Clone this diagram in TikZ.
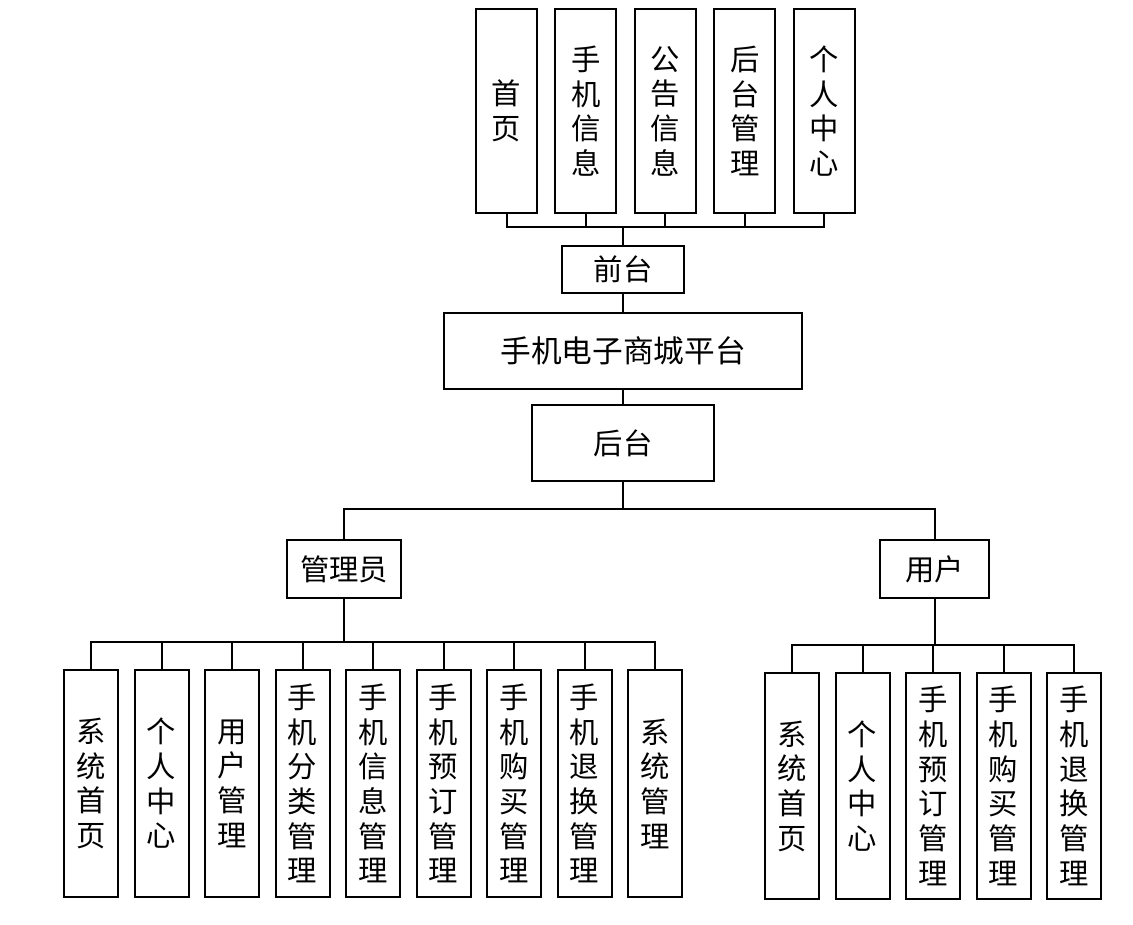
\documentclass[tikz,border=0pt]{standalone}
\usepackage{fontspec}
\setmainfont{Noto Sans CJK SC}
\usetikzlibrary{positioning}

\tikzset{
	box/.style={draw, line width=1.5pt, align=center, inner sep=0pt,
		font=\fontsize{22}{26}\selectfont},
	tallbox/.style={box, minimum width=45.75pt, minimum height=153pt},
	subbox/.style={box, minimum width=40.5pt, minimum height=170pt},
	link/.style={line width=1.5pt},
}

\begin{document}
\begin{tikzpicture}[x=0.75pt,y=-0.75pt]
	\useasboundingbox (0,0) rectangle (1133,925);
	% front end
	\foreach \t [count=\i] in {{首\\页}, {手\\机\\信\\息}, {公\\告\\信\\息}, {后\\台\\管\\理}, {个\\人\\中\\心}}
		\node[tallbox] (t\i) at ({506.5+79.4*(\i-1)},111) {\t};
	\node[box, minimum width=91.5pt, minimum height=35.25pt] (front) at (623,269.5) {前台};
	\node[box, minimum width=268.5pt, minimum height=57pt, font=\fontsize{23}{27}\selectfont] (mall) at (623,351) {手机电子商城平台};
	\node[box, minimum width=136.5pt, minimum height=57pt] (back) at (623,443) {后台};
	\node[box, minimum width=85.5pt, minimum height=43.5pt] (admin) at (344,569) {管理员};
	\node[box, minimum width=81.75pt, minimum height=43.5pt] (user) at (934.5,569) {用户};
	% admin functions
	\foreach \t [count=\i] in {{系\\统\\首\\页}, {个\\人\\中\\心}, {用\\户\\管\\理}, {手\\机\\分\\类\\管\\理},
		{手\\机\\信\\息\\管\\理}, {手\\机\\预\\订\\管\\理}, {手\\机\\购\\买\\管\\理}, {手\\机\\退\\换\\管\\理}, {系\\统\\管\\理}}
		\node[subbox] (a\i) at ({91+70.5*(\i-1)},783.5) {\t};
	% user functions
	\foreach \t [count=\i] in {{系\\统\\首\\页}, {个\\人\\中\\心}, {手\\机\\预\\订\\管\\理}, {手\\机\\购\\买\\管\\理}, {手\\机\\退\\换\\管\\理}}
		\node[subbox] (u\i) at ({792+70.5*(\i-1)},786) {\t};

	\coordinate (tbus) at (623,227);
	\coordinate (mbus) at (623,509);
	\coordinate (abus) at (344,642);
	\coordinate (ubus) at (934.5,645);

	\foreach \i in {1,...,5}
		\draw[link] (t\i.south) |- (tbus);
	\draw[link] (front.north) -- (tbus);
	\draw[link] (front.south) -- (mall.north);
	\draw[link] (mall.south) -- (back.north);
	\draw[link] (back.south) -- (mbus);
	\draw[link] (admin.north) |- (mbus) -| (user.north);
	\draw[link] (admin.south) -- (abus);
	\foreach \i in {1,...,9}
		\draw[link] (a\i.north) |- (abus);
	\draw[link] (user.south) -- (ubus);
	\foreach \i in {1,...,5}
		\draw[link] (u\i.north) |- (ubus);
\end{tikzpicture}
\end{document}
